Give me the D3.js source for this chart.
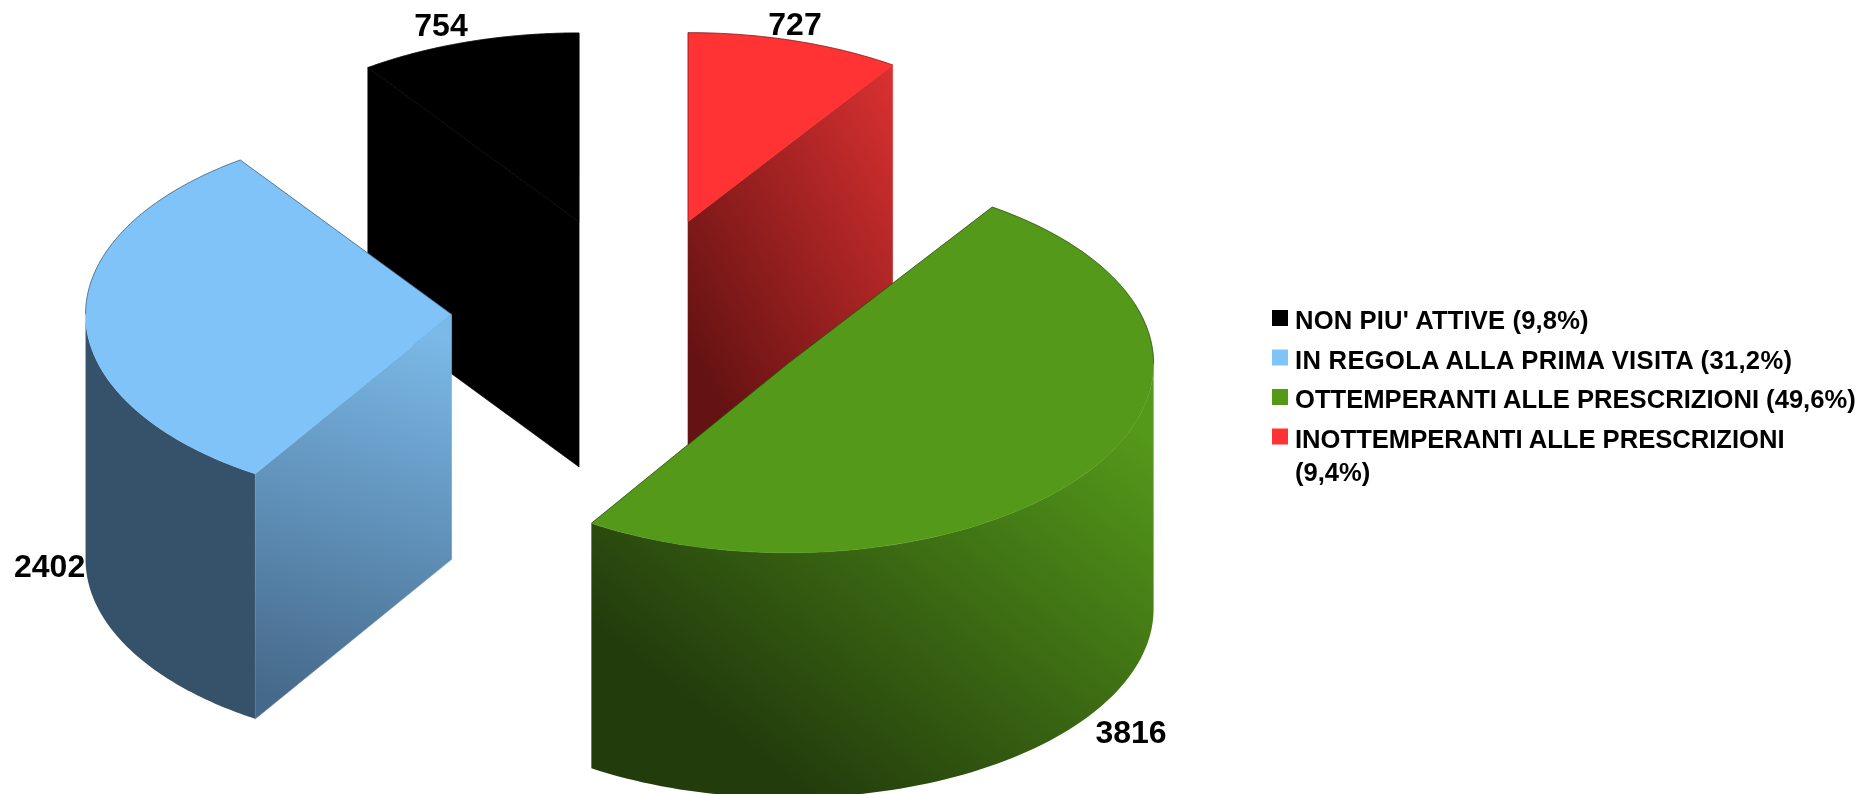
<!DOCTYPE html>
<html>
<head>
<meta charset="utf-8">
<script src="https://cdn.jsdelivr.net/npm/d3@7/dist/d3.min.js"></script>
<style>
html,body{margin:0;padding:0;background:#fff;overflow:hidden}
svg{display:block}
text{font-family:"Liberation Sans",Arial,sans-serif;font-weight:bold;fill:#000}
</style>
</head>
<body>
<svg id="c" width="1867" height="794"></svg>
<script>
const categories = ["NON PIU' ATTIVE","IN REGOLA ALLA PRIMA VISITA","OTTEMPERANTI ALLE PRESCRIZIONI","INOTTEMPERANTI ALLE PRESCRIZIONI"];
const values = [754,2402,3816,727];
const percents = ["9,8%","31,2%","49,6%","9,4%"];
const colors = ["#000000","#7FC3F9","#54991A","#FF3333"];
const wallLight = ["#000000","#35526A","#54991A","#FF3333"];
const wallDark  = ["#000000","#35526A","#233C0C","#7A1616"];
const cutLight  = ["#000000","#7BB9E8","#54991A","#DB3131"];
const cutDark   = ["#000000","#45698A","#233C0C","#641212"];
const labelAnchors = [[441,36],[14,577,"start"],[1131,743],[795,35]];
const legendTracking = [0.15,0.3,0,0];

const svg = d3.select("#c");
const Cx=634.5, Cy=312, Rx=366, Ry=189, depth=245, explode=0.5, N=80;
const defs = svg.append("defs");
defs.append("filter").attr("id","soft").attr("x","-5%").attr("y","-5%").attr("width","110%").attr("height","110%")
  .attr("color-interpolation-filters","sRGB")
  .append("feGaussianBlur").attr("stdDeviation",0.55);
const pie = d3.pie().sort(null).startAngle(0).endAngle(2*Math.PI);
const arcs = pie(values);
const line = d3.line();
const root = svg.append("g").attr("filter","url(#soft)");

function grad(id,c0,c1,v){
  const g = defs.append("linearGradient").attr("id",id)
    .attr("x1",v[0]).attr("y1",v[1]).attr("x2",v[2]).attr("y2",v[3]);
  g.append("stop").attr("offset",0).attr("stop-color",c0);
  g.append("stop").attr("offset",1).attr("stop-color",c1);
}

const slices = arcs.map((d,i)=>{
  const m=(d.startAngle+d.endAngle)/2;
  return {i,a0:d.startAngle,a1:d.endAngle,
    c:[Cx-explode*Rx*Math.sin(m),Cy-explode*Ry*Math.cos(m)]};
});
const P=(s,a,dz=0)=>[s.c[0]-Rx*Math.sin(a),s.c[1]-Ry*Math.cos(a)+dz];
const arcPts=(s,a,b,dz=0)=>d3.range(N+1).map(k=>P(s,a+(b-a)*k/N,dz));

// painter's order: back slices first
const order=[0,3,1,2];
order.forEach(idx=>{
  const s=slices[idx], g=root.append("g");
  grad("w"+idx,wallLight[idx],wallDark[idx],[0.97,0.15,0.25,0.85]);
  grad("k"+idx,cutLight[idx],cutDark[idx],idx===1?[0.6,0,0.45,1]:[1,0,0.2,0.9]);
  // outer wall (front half only)
  const wa=Math.max(s.a0,Math.PI/2), wb=Math.min(s.a1,3*Math.PI/2);
  if(wb>wa){
    const top=arcPts(s,wa,wb), bot=arcPts(s,wb,wa,depth);
    g.append("path").attr("d",line(top.concat(bot))+"Z").attr("fill","url(#w"+idx+")");
  }
  // radial cut faces
  const cut=a=>{
    const p=P(s,a);
    const pts=[s.c,p,[p[0],p[1]+depth],[s.c[0],s.c[1]+depth]];
    g.append("path").attr("d",line(pts)+"Z").attr("fill","url(#k"+idx+")")
      .attr("stroke","url(#k"+idx+")").attr("stroke-width",0.6);
  };
  const cut0=Math.sin(s.a0)<-1e-6, cut1=Math.sin(s.a1)>1e-6;
  if(cut0) cut(s.a0);
  if(cut1) cut(s.a1);
  // top face
  g.append("path").attr("d",line([s.c].concat(arcPts(s,s.a0,s.a1)))+"Z")
    .attr("fill",colors[idx]).attr("stroke",colors[idx]).attr("stroke-width",0.6);
  // thin dark rim on the back-facing edges of the top face
  const rim=(pts)=>g.append("path").attr("d",line(pts)).attr("fill","none")
    .attr("stroke","#000").attr("stroke-opacity",0.45).attr("stroke-width",0.9);
  const ba=[[s.a0,Math.min(s.a1,Math.PI/2)],[Math.max(s.a0,3*Math.PI/2),s.a1]];
  ba.forEach(r=>{ if(r[1]>r[0]) rim(arcPts(s,r[0],r[1])); });
  if(!cut0) rim([s.c,P(s,s.a0)]);
  if(!cut1) rim([s.c,P(s,s.a1)]);
});

// data labels
root.append("g").selectAll("text").data(values).join("text")
  .attr("x",(d,i)=>labelAnchors[i][0]).attr("y",(d,i)=>labelAnchors[i][1])
  .attr("text-anchor",(d,i)=>labelAnchors[i][2]||"middle")
  .attr("font-size",32).text(d=>d);

// legend
const legX=1272, legY=318, legGap=39.5, sw=16, textX=1295, legFont=25.6, maxW=565, lineH=33;
const leg=root.append("g");
categories.forEach((c,i)=>{
  const y=legY+i*legGap;
  leg.append("rect").attr("x",legX).attr("y",y-sw/2).attr("width",sw).attr("height",sw).attr("fill",colors[i]);
  const t=leg.append("text").attr("x",textX).attr("y",y+11).attr("font-size",legFont)
    .attr("letter-spacing",legendTracking[i]);
  const words=(c+" ("+percents[i]+")").split(" ");
  let ln=[],ts=t.append("tspan").attr("x",textX);
  words.forEach(w=>{
    ln.push(w); ts.text(ln.join(" "));
    if(ts.node().getComputedTextLength()>maxW && ln.length>1){
      ln.pop(); ts.text(ln.join(" "));
      ln=[w]; ts=t.append("tspan").attr("x",textX).attr("dy",lineH).text(w);
    }
  });
});
</script>
</body>
</html>
